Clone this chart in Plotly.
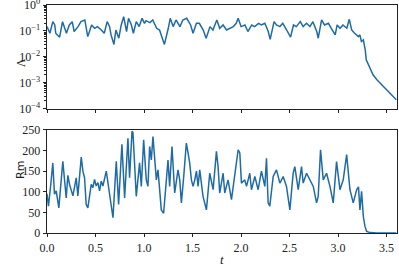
import plotly.graph_objects as go
from plotly.subplots import make_subplots

# ---- top panel: Lambda (log scale) ----
t_lam = [0.00, 0.03, 0.06, 0.08, 0.09, 0.13, 0.16, 0.20, 0.23, 0.26, 0.28, 0.32, 0.35, 0.39,
         0.42, 0.46, 0.49, 0.52, 0.56, 0.59, 0.62, 0.645, 0.66, 0.69, 0.71, 0.74, 0.765, 0.79,
         0.82, 0.84, 0.87, 0.89, 0.92, 0.95, 0.98, 1.005, 1.02, 1.06, 1.09, 1.13, 1.16, 1.19,
         1.21, 1.25, 1.27, 1.30, 1.33, 1.37, 1.40, 1.44, 1.48, 1.505, 1.54,
         1.57, 1.61, 1.64, 1.68, 1.71, 1.75, 1.78, 1.815, 1.85, 1.88, 1.92, 1.95, 1.97, 2.00,
         2.04, 2.07, 2.11, 2.14, 2.18, 2.21, 2.245, 2.28, 2.30, 2.34, 2.365, 2.40, 2.43, 2.47,
         2.51, 2.54, 2.57, 2.61, 2.64, 2.675, 2.71, 2.74, 2.78, 2.795, 2.83, 2.86, 2.90, 2.93,
         2.97, 2.99, 3.02, 3.05, 3.09, 3.115, 3.14, 3.17, 3.21, 3.225, 3.24, 3.26, 3.28, 3.29,
         3.33, 3.36, 3.40, 3.45, 3.50, 3.55, 3.60]
lam = [0.146, 0.081, 0.227, 0.169, 0.081, 0.057, 0.227, 0.081, 0.169, 0.227, 0.094, 0.146, 0.227, 0.264,
       0.060, 0.169, 0.126, 0.146, 0.108, 0.081, 0.227, 0.146, 0.070, 0.030, 0.108, 0.052, 0.169, 0.355,
       0.094, 0.306, 0.169, 0.081, 0.227, 0.146, 0.306, 0.196, 0.248, 0.208, 0.264, 0.126, 0.108, 0.052,
       0.030, 0.126, 0.306, 0.146, 0.264, 0.146, 0.264, 0.306, 0.169, 0.081, 0.196,
       0.196, 0.108, 0.052, 0.146, 0.108, 0.264, 0.126, 0.169, 0.108, 0.126, 0.146, 0.196, 0.306, 0.146,
       0.169, 0.094, 0.169, 0.146, 0.196, 0.169, 0.196, 0.094, 0.047, 0.227, 0.169, 0.146, 0.196, 0.108,
       0.057, 0.169, 0.146, 0.227, 0.146, 0.196, 0.146, 0.227, 0.094, 0.052, 0.264, 0.169, 0.196, 0.126,
       0.070, 0.169, 0.126, 0.169, 0.126, 0.280, 0.108, 0.081, 0.060, 0.070, 0.039, 0.045, 0.018, 0.0076,
       0.0036, 0.0020, 0.0013, 0.00082, 0.00053, 0.00034, 0.00022]

# ---- bottom panel: Rm ----
t_rm = [0.00, 0.015, 0.04, 0.06, 0.077, 0.095, 0.122, 0.14, 0.163, 0.198, 0.215, 0.232, 0.267, 0.301,
        0.318, 0.353, 0.37, 0.387, 0.404, 0.421, 0.44, 0.456, 0.473, 0.49, 0.507, 0.525, 0.542, 0.559,
        0.576, 0.611, 0.645, 0.68, 0.714, 0.738, 0.772, 0.80, 0.834, 0.851, 0.876,
        0.886, 0.92, 0.954, 0.972, 0.996, 1.023, 1.04, 1.058, 1.075, 1.092, 1.109, 1.127, 1.144,
        1.161, 1.178, 1.202, 1.23, 1.247, 1.264, 1.288, 1.316, 1.35, 1.368, 1.385, 1.409, 1.436,
        1.454, 1.471, 1.488, 1.505, 1.523, 1.54, 1.557,
        1.574, 1.608, 1.643, 1.677, 1.712, 1.746, 1.763, 1.78, 1.815, 1.832, 1.866, 1.901, 1.935,
        1.97, 1.987, 2.004, 2.038, 2.056, 2.09, 2.107, 2.142, 2.176, 2.21, 2.245, 2.262, 2.279,
        2.296, 2.331, 2.365, 2.40, 2.434, 2.468, 2.503, 2.537, 2.554, 2.589, 2.623, 2.64, 2.675,
        2.709, 2.744, 2.778, 2.795, 2.819, 2.847, 2.881, 2.916, 2.95, 2.984, 3.019, 3.053, 3.088,
        3.122, 3.156, 3.191, 3.21, 3.225, 3.242, 3.26, 3.277, 3.294, 3.33, 3.40, 3.60]
rm = [95, 65, 120, 170, 94, 102, 61, 110, 174, 85, 140, 118, 90, 134,
      90, 184, 150, 134, 69, 61, 95, 118, 110, 130, 114, 122, 102, 126,
      114, 150, 94, 37, 174, 69, 215, 85, 230, 134, 247,
      243, 89, 170, 113, 226, 129, 113, 210, 177, 234, 169, 129, 153,
      105, 56, 48, 121, 177, 113, 210, 97, 153, 129, 73, 137, 218,
      194, 169, 129, 113, 129, 150, 113,
      153, 89, 56, 145, 105, 198, 161, 97, 145, 97, 129, 81, 137,
      202, 194, 121, 129, 113, 145, 105, 137, 105, 150, 113, 181, 73,
      65, 137, 153, 121, 137, 113, 56, 145, 161, 105, 161, 121, 145,
      129, 113, 73, 89, 202, 129, 145, 113, 73, 173, 105, 129, 190,
      105, 73, 105, 112, 56, 101, 40, 16, 4, 1, 0, 0]

lam_ticks = [1e-4, 1e-3, 1e-2, 1e-1, 1e0]
lam_ticktext = ["10<sup>−4</sup>", "10<sup>−3</sup>", "10<sup>−2</sup>", "10<sup>−1</sup>", "10<sup>0</sup>"]
lam_minor = [k * 10.0 ** e for e in (-4, -3, -2, -1) for k in range(2, 10)]
rm_ticks = [0, 50, 100, 150, 200, 250]
t_ticks = [0.0, 0.5, 1.0, 1.5, 2.0, 2.5, 3.0, 3.5]
t_ticktext = ["0.0", "0.5", "1.0", "1.5", "2.0", "2.5", "3.0", "3.5"]

color = "#1f6ba5"
serif = "Liberation Serif"

fig = make_subplots(rows=2, cols=1, shared_xaxes=False, vertical_spacing=0.09)
fig.add_trace(go.Scatter(x=t_lam, y=lam, mode="lines", line=dict(color=color, width=1.5)), row=1, col=1)
fig.add_trace(go.Scatter(x=t_rm, y=rm, mode="lines", line=dict(color=color, width=1.5)), row=2, col=1)

axis_common = dict(showline=True, linecolor="#222", linewidth=0.8, mirror=True, showgrid=False,
                   zeroline=False, ticks="outside", ticklen=3.5, tickwidth=0.8, tickcolor="#222",
                   automargin=False, ticklabeloverflow="allow",
                   tickfont=dict(family=serif, size=12, color="#222"))

fig.update_layout(
    width=399, height=266, showlegend=False,
    margin=dict(l=47, r=2, t=5, b=33),
    paper_bgcolor="white", plot_bgcolor="white",
    xaxis=dict(axis_common, domain=[0, 1], range=[0, 3.607], tickvals=t_ticks, showticklabels=False),
    yaxis=dict(axis_common, domain=[0.546, 1], type="log", range=[-4, 0],
               tickvals=lam_ticks, ticktext=lam_ticktext,
               minor=dict(ticks="outside", ticklen=2, tickwidth=0.6, tickcolor="#222",
                          showgrid=False, tickvals=lam_minor)),
    xaxis2=dict(axis_common, domain=[0, 1], range=[0, 3.607], tickvals=t_ticks, ticktext=t_ticktext),
    yaxis2=dict(axis_common, domain=[0, 0.452], range=[0, 250], tickvals=rm_ticks),
    annotations=[
        dict(text="Λ", xref="paper", yref="paper", x=0, y=0.773, xshift=-35, showarrow=False,
             textangle=-90, font=dict(family=serif, size=12, color="#222")),
        dict(text="Rm", xref="paper", yref="paper", x=0, y=0.226, xshift=-35, showarrow=False,
             textangle=-90, font=dict(family="DejaVu Sans", size=11, color="#222")),
        dict(text="<i>t</i>", xref="paper", yref="paper", x=0.5, y=0, yshift=-26, yanchor="middle",
             showarrow=False, font=dict(family=serif, size=13, color="#222")),
    ],
)

fig.write_html("out.html", config={"displayModeBar": False},
               post_script="document.body.style.margin='0';document.body.style.padding='0';")
